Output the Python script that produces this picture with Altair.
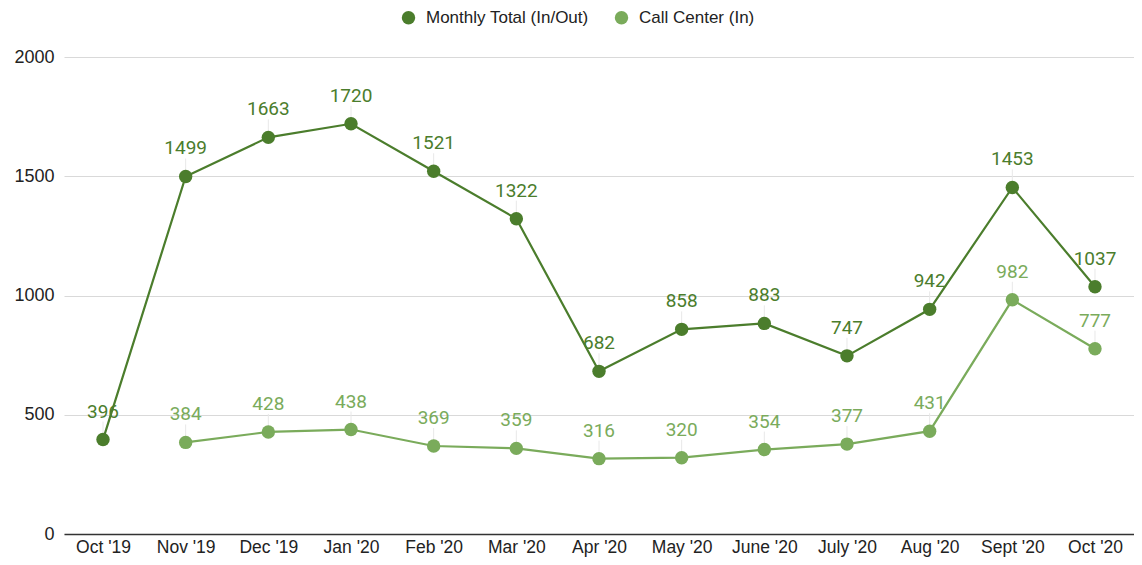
import altair as alt
import pandas as pd

months = ["Oct '19", "Nov '19", "Dec '19", "Jan '20", "Feb '20", "Mar '20", "Apr '20",
          "May '20", "June '20", "July '20", "Aug '20", "Sept '20", "Oct '20"]
monthly_total = [396, 1499, 1663, 1720, 1521, 1322, 682, 858, 883, 747, 942, 1453, 1037]
call_center = [None, 384, 428, 438, 369, 359, 316, 320, 354, 377, 431, 982, 777]

series_names = ["Monthly Total (In/Out)", "Call Center (In)"]
colors = ["#4b7d2c", "#7aab5b"]

rows = []
for i, m in enumerate(months):
    rows.append({"month": m, "series": series_names[0], "value": monthly_total[i], "order": i})
    if call_center[i] is not None:
        rows.append({"month": m, "series": series_names[1], "value": call_center[i], "order": i})
df = pd.DataFrame(rows)

x = alt.X("month:N", sort=months, title=None,
          scale=alt.Scale(type="point", padding=0.4718),
          axis=alt.Axis(labelAngle=0, labelFontSize=17.5, labelColor="#222222",
                        labelFont="Liberation Sans", domainColor="#333333", domainWidth=1.5,
                        ticks=False, labelPadding=4, grid=False))
y = alt.Y("value:Q", title=None,
          scale=alt.Scale(domain=[0, 2000]),
          axis=alt.Axis(values=[0, 500, 1000, 1500, 2000], format="d", labelFontSize=18,
                        labelColor="#222222", labelFont="Liberation Sans",
                        domain=False, ticks=False, labelPadding=10,
                        gridColor="#d9d9d9", gridWidth=1))
color = alt.Color("series:N", sort=series_names,
                  scale=alt.Scale(domain=series_names, range=colors),
                  legend=alt.Legend(title=None, orient="none", direction="horizontal",
                                    legendX=336, legendY=-48, padding=0, labelFontSize=17,
                                    labelFont="Liberation Sans", labelColor="#222222",
                                    labelLimit=400,
                                    symbolType="circle", symbolSize=180, symbolStrokeWidth=0,
                                    columnPadding=24, labelOffset=9))

base = alt.Chart(df)

leaders = base.mark_rule(color="#e8e8e8", strokeWidth=1, y2Offset=-18).encode(
    x=x, y=y, y2="value:Q", detail="series:N")

labels = base.mark_text(fontSize=19, font="Roboto", baseline="middle", dy=-28).encode(
    x=x, y=y, text="value:Q", color=color)

lines = base.mark_line(strokeWidth=2.2).encode(x=x, y=y, color=color, order="order:Q")

points = base.mark_point(filled=True, size=180, opacity=1).encode(x=x, y=y, color=color)

chart = alt.layer(leaders, labels, lines, points).properties(
    width=1070, height=477,
    autosize=alt.AutoSizeParams(type="none"),
    padding={"left": 56, "top": 49, "right": 0, "bottom": 23},
).configure_view(stroke=None)

chart.save("out.html", embed_options={"renderer": "svg", "actions": False})
